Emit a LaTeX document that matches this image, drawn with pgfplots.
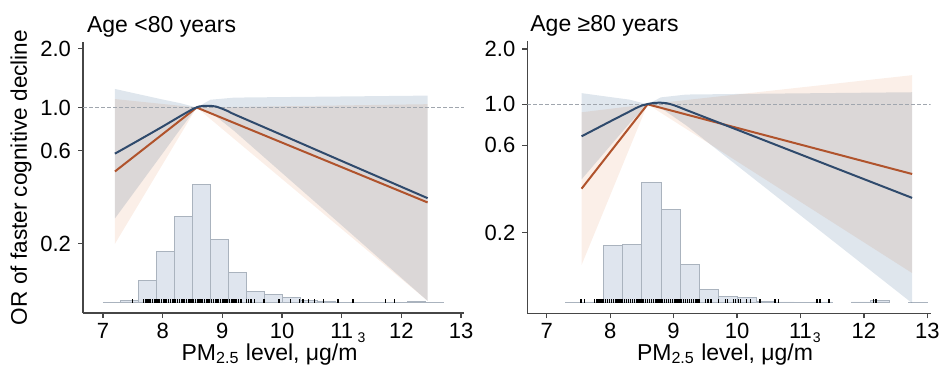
\documentclass[border=0pt]{standalone}
\usepackage{fontspec}
\setmainfont{Liberation Sans}
\usepackage{pgfplots}
\pgfplotsset{compat=1.18}
\definecolor{bandblue}{RGB}{223,230,237}
\definecolor{bandpink}{RGB}{251,239,232}
\definecolor{lineblue}{RGB}{47,74,108}
\definecolor{lineorange}{RGB}{176,83,44}
\definecolor{histfill}{RGB}{223,229,238}
\definecolor{histdraw}{RGB}{170,179,190}
\definecolor{axgray}{RGB}{70,70,70}
\definecolor{refgray}{RGB}{160,166,174}
\newcommand{\unitlabel}{PM\textsubscript{2.5} level, μg/m\raisebox{9pt}{\fontsize{7}{8}\selectfont 3}}
\pgfplotsset{
  panel/.style={
    scale only axis, anchor=south west,
    axis x line*=bottom, axis y line*=left,
    axis line style={color=axgray, line width=0.65pt},
    every tick/.style={color=axgray, line width=0.6pt},
    tick align=outside, major tick length=2.5pt,
    xtick={7,8,9,10,11,12,13},
    ytick={0.2,0.6,1,2}, yticklabels={0.2,0.6,1.0,2.0},
    yminorticks=false,
    /pgf/number format/assume math mode=true,
    ticklabel style={font=\fontsize{11}{13}\selectfont},
    xticklabel style={yshift=1pt},
    xlabel style={at={(axis description cs:0.5,0)}, anchor=base, yshift=-23.5pt, inner sep=0pt, font=\fontsize{11.5}{13}\selectfont},
    ylabel style={at={(axis description cs:0,0.5)}, anchor=base, yshift=28pt, inner sep=0pt, font=\fontsize{11.3}{13}\selectfont},
    title style={at={(axis description cs:0,1)}, anchor=base west, inner sep=0pt, font=\fontsize{11.5}{13}\selectfont},
  },
  hist/.style={scale only axis, anchor=south west, hide axis},
  band/.style={draw=none, blend mode=multiply, forget plot},
  rug/.style={only marks, mark=|, mark size=1.1pt, color=black, mark options={line width=0.65pt}},
  bars/.style={ybar interval, fill=histfill, draw=histdraw, line width=0.4pt},
}
\begin{document}
\begin{tikzpicture}
\useasboundingbox (0,0) rectangle (470.5pt,185.5pt);
% ---------------- Left panel: histogram layer
\begin{axis}[hist, at={(41.5pt,29pt)}, width=190.5pt, height=135.5pt,
  xmin=6.665, xmax=13.05, ymin=-10.3, ymax=260.7]
\addplot[bars] coordinates {(7.0,0.5) (7.3,2.5) (7.6,22) (7.9,51.7) (8.2,86.7) (8.5,118.4) (8.8,63.4) (9.1,30.4) (9.4,11) (9.7,8) (10.0,5) (10.3,2) (10.6,1) (10.9,0.6) (11.2,0.5) (11.5,0.5) (11.8,0.6) (12.1,1) (12.4,0.6) (12.7,0)};
\addplot[rug] coordinates {(7.49,1.5) (7.68,1.5) (7.71,1.5) (7.74,1.5) (7.77,1.5) (7.80,1.5) (7.83,1.5) (7.86,1.5) (7.89,1.5) (7.92,1.5) (7.95,1.5) (7.98,1.5) (8.01,1.5) (8.04,1.5) (8.07,1.5) (8.10,1.5) (8.13,1.5) (8.16,1.5) (8.19,1.5) (8.22,1.5) (8.25,1.5) (8.28,1.5) (8.31,1.5) (8.34,1.5) (8.37,1.5) (8.40,1.5) (8.43,1.5) (8.46,1.5) (8.49,1.5) (8.52,1.5) (8.55,1.5) (8.58,1.5) (8.61,1.5) (8.64,1.5) (8.67,1.5) (8.70,1.5) (8.73,1.5) (8.76,1.5) (8.79,1.5) (8.82,1.5) (8.85,1.5) (8.88,1.5) (8.91,1.5) (8.94,1.5) (8.97,1.5) (9.00,1.5) (9.03,1.5) (9.06,1.5) (9.09,1.5) (9.12,1.5) (9.15,1.5) (9.18,1.5) (9.21,1.5) (9.24,1.5) (9.27,1.5) (9.30,1.5) (9.32,1.5) (9.40,1.5) (9.44,1.5) (9.48,1.5) (9.54,1.5) (9.70,1.5) (9.95,1.5) (10.14,1.5) (10.29,1.5) (10.35,1.5) (10.44,1.5) (10.54,1.5) (10.69,1.5) (10.94,1.5) (11.19,1.5) (11.74,1.5) (11.89,1.5)};
\end{axis}
% ---------------- Left panel: main
\begin{axis}[panel, ymode=log, at={(41.5pt,29pt)}, width=190.5pt, height=135.5pt,
  xmin=6.665, xmax=13.05, ymin=0.0884, ymax=2.167,
  title={Age <80 years}, title style={xshift=1.85pt, yshift=-1pt},
  ylabel={OR of faster cognitive decline},
  xlabel={\unitlabel}]
\addplot[band, fill=bandpink] coordinates {(7.2,1.105) (8.57,1.0) (12.44,1.04) (12.44,0.102) (8.57,1.0) (7.2,0.200)};
\addplot[band, fill=bandblue] coordinates {(7.2,1.245) (8.0,1.099) (8.3,1.052) (8.57,1.0) (8.8,1.096) (9.2,1.124) (10,1.131) (11,1.139) (12.44,1.151) (12.44,0.102) (11,0.249) (10,0.462) (9.2,0.758) (8.8,0.949) (8.57,1.0) (8.3,0.778) (8.0,0.582) (7.2,0.270)};
\addplot[refgray, line width=0.5pt, dash pattern=on 1.8pt off 1.2pt] coordinates {(6.665,1) (13.05,1)};
\addplot[lineorange, line width=1pt] coordinates {(7.2,0.470) (8.57,1.0) (12.44,0.326)};
\addplot[lineblue, line width=1pt, smooth, tension=0.3] coordinates {(7.2,0.580) (7.6,0.680) (8.0,0.799) (8.3,0.905) (8.5,0.980) (8.6,1.010) (8.7,1.020) (8.8,1.020) (8.9,1.010) (9.0,0.985) (9.1,0.956) (9.2,0.923) (10,0.723) (11,0.532) (12.44,0.343)};
\end{axis}
% ---------------- Right panel: histogram layer
\begin{axis}[hist, at={(263.65pt,28.85pt)}, width=201.6pt, height=136.3pt,
  xmin=6.694, xmax=13.05, ymin=-10.6, ymax=262]
\addplot[bars] coordinates {(7.3,0.5) (7.6,0.8) (7.9,57.7) (8.2,58.7) (8.5,120.4) (8.8,93.4) (9.1,38.7) (9.4,13.4) (9.7,6) (10.0,5.5) (10.3,1) (10.6,0.8) (10.9,0.5) (11.2,0.8) (11.5,0)};
\addplot[bars] coordinates {(11.8,0.8) (12.1,2) (12.4,0)};
\addplot[bars] coordinates {(12.7,0.5) (13.0,0)};
\addplot[rug] coordinates {(7.54,1.5) (7.59,1.5) (7.75,1.5) (7.78,1.5) (7.81,1.5) (7.84,1.5) (7.87,1.5) (7.90,1.5) (7.93,1.5) (7.96,1.5) (7.99,1.5) (8.02,1.5) (8.05,1.5) (8.08,1.5) (8.11,1.5) (8.14,1.5) (8.17,1.5) (8.20,1.5) (8.23,1.5) (8.26,1.5) (8.29,1.5) (8.32,1.5) (8.35,1.5) (8.38,1.5) (8.41,1.5) (8.44,1.5) (8.47,1.5) (8.50,1.5) (8.53,1.5) (8.56,1.5) (8.59,1.5) (8.62,1.5) (8.65,1.5) (8.68,1.5) (8.71,1.5) (8.74,1.5) (8.77,1.5) (8.80,1.5) (8.83,1.5) (8.86,1.5) (8.89,1.5) (8.92,1.5) (8.95,1.5) (8.98,1.5) (9.01,1.5) (9.04,1.5) (9.07,1.5) (9.10,1.5) (9.13,1.5) (9.16,1.5) (9.19,1.5) (9.22,1.5) (9.25,1.5) (9.28,1.5) (9.31,1.5) (9.34,1.5) (9.37,1.5) (9.40,1.5) (9.50,1.5) (9.54,1.5) (9.59,1.5) (9.71,1.5) (9.82,1.5) (9.85,1.5) (9.94,1.5) (9.98,1.5) (10.02,1.5) (10.06,1.5) (10.15,1.5) (10.21,1.5) (10.36,1.5) (10.60,1.5) (10.65,1.5) (11.26,1.5) (11.31,1.5) (11.45,1.5) (12.15,1.5) (12.19,1.5)};
\end{axis}
% ---------------- Right panel: main
\begin{axis}[panel, ymode=log, at={(263.65pt,28.85pt)}, width=201.6pt, height=136.3pt,
  xmin=6.694, xmax=13.05, ymin=0.0731, ymax=2.217,
  title={Age ≥80 years}, title style={xshift=1.35pt, yshift=-1.65pt},
  xlabel={\unitlabel}]
\addplot[band, fill=bandpink] coordinates {(7.55,0.905) (8.59,1.0) (12.76,1.44) (12.76,0.121) (8.59,1.0) (7.55,0.134)};
\addplot[band, fill=bandblue] coordinates {(7.55,1.150) (8.0,1.095) (8.3,1.061) (8.59,1.0) (8.8,1.091) (9.2,1.130) (10,1.138) (11,1.147) (12.76,1.163) (12.76,0.083) (11,0.249) (10,0.465) (9.2,0.768) (8.8,0.954) (8.59,1.0) (8.3,0.784) (8.0,0.594) (7.55,0.391)};
\addplot[refgray, line width=0.5pt, dash pattern=on 1.8pt off 1.2pt] coordinates {(6.694,1) (13.05,1)};
\addplot[lineorange, line width=1pt] coordinates {(7.55,0.348) (8.59,1.0) (12.76,0.418)};
\addplot[lineblue, line width=1pt, smooth, tension=0.3] coordinates {(7.55,0.670) (8.0,0.807) (8.3,0.912) (8.4,0.951) (8.5,0.985) (8.6,1.005) (8.7,1.018) (8.8,1.020) (8.9,1.012) (9.0,0.990) (9.1,0.961) (9.2,0.931) (10,0.728) (11,0.534) (12.76,0.310)};
\end{axis}
\end{tikzpicture}
\end{document}
